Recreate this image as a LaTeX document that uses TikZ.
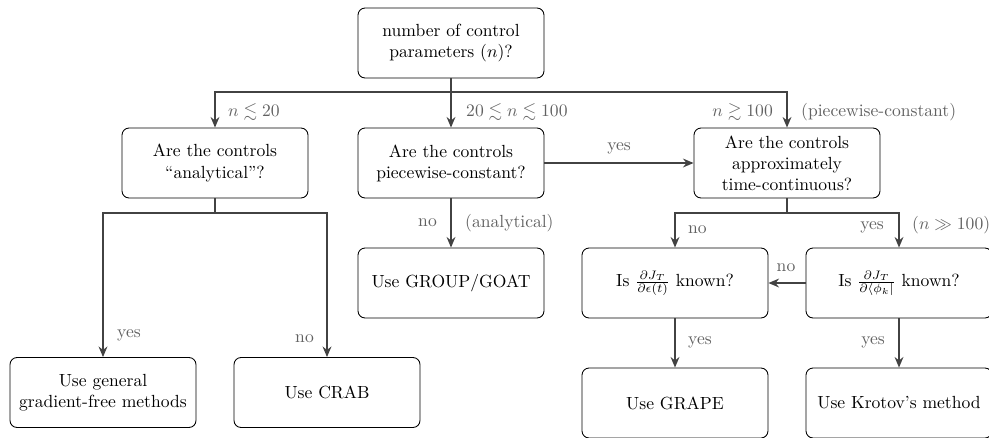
\documentclass[tikz,border=0pt]{standalone}
\usepackage{amsmath}
\usepackage{amssymb}
\usepackage{xcolor}
\usepackage{tikz}
\usetikzlibrary{arrows.meta}

\begin{document}
\begin{tikzpicture}[x=0.02cm, y=-0.02cm,
  box/.style={draw, rounded corners=4pt, line width=0.5pt, minimum width=3.72cm, minimum height=1.4cm, inner sep=2pt, align=center},
  wire/.style={draw=black!74, line width=1.1pt},
  flow/.style={wire, -{Stealth[length=6pt, width=5pt]}},
  lbl/.style={text=black!62}]
  \useasboundingbox (0,0) rectangle (989,437);
  \clip (0,0) rectangle (989,437);

  % questions and answers
  \node[box](params) at (451,43) {number of control\\parameters $(n)$?};
  \node[box](analytic) at (215,163) {Are the controls\\\textquotedblleft analytical\textquotedblright?};
  \node[box](pwc) at (451,163) {Are the controls\\piecewise-constant?};
  \node[box](timecont) at (787,163) {Are the controls\\approximately\\time-continuous?};
  \node[box](groupgoat) at (451,283) {Use GROUP/GOAT};
  \node[box](gradeps) at (675,283) {Is $\frac{\partial J_T}{\partial \epsilon(t)}$ known?};
  \node[box](gradphi) at (899,283) {Is $\frac{\partial J_T}{\partial \langle\phi_k|}$ known?};
  \node[box](gradfree) at (103,392.5) {Use general\\gradient-free methods};
  \node[box](crab) at (327,392.5) {Use CRAB};
  \node[box](grape) at (675,403) {Use GRAPE};
  \node[box](krotov) at (899,403) {Use Krotov's method};

  % branch points
  \coordinate (bus) at (451,92);
  \coordinate (lsplit) at (215,213);
  \coordinate (rsplit) at (787,213);

  \draw[wire] (params.south) -- (bus);
  \draw[flow] (bus) -| (analytic.north);
  \draw[flow] (bus) -- (pwc.north);
  \draw[flow] (bus) -| (timecont.north);
  \draw[flow] (pwc.east) -- (timecont.west);
  \draw[flow] (pwc.south) -- (groupgoat.north);
  \draw[wire] (analytic.south) -- (lsplit);
  \draw[flow] (lsplit) -| (gradfree.north);
  \draw[flow] (lsplit) -| (crab.north);
  \draw[wire] (timecont.south) -- (rsplit);
  \draw[flow] (rsplit) -| (gradeps.north);
  \draw[flow] (rsplit) -| (gradphi.north);
  \draw[flow] (gradphi.west) -- (gradeps.east);
  \draw[flow] (gradeps.south) -- (grape.north);
  \draw[flow] (gradphi.south) -- (krotov.north);

  % labels
  \node[lbl, anchor=west](lsmall) at (222,112) {$n \lesssim 20$};
  \node[lbl, anchor=west](lmid) at (460,112) {$20 \lesssim n \lesssim 100$};
  \node[lbl, anchor=east](llarge) at (779,112) {$n \gtrsim 100$};
  \node[lbl, anchor=west](lpwc) at (795,112) {(piecewise-constant)};
  \node[lbl](lyespwc) at (619,148) {yes};
  \node[lbl, anchor=east](lnopwc) at (443,223) {no};
  \node[lbl, anchor=west](lanalyt) at (459,223) {(analytical)};
  \node[lbl, anchor=west](lyesfree) at (111,335) {yes};
  \node[lbl, anchor=east](lnocrab) at (320,339) {no};
  \node[lbl, anchor=west](lnoeps) at (682,230) {no};
  \node[lbl, anchor=east](lyesphi) at (890,227) {yes};
  \node[lbl, anchor=west](lmuch) at (906,225) {$(n \gg 100)$};
  \node[lbl](lnophi) at (786,268) {no};
  \node[lbl, anchor=west](lyesgrape) at (682,342) {yes};
  \node[lbl, anchor=east](lyeskrotov) at (891,342) {yes};
\end{tikzpicture}
\end{document}
